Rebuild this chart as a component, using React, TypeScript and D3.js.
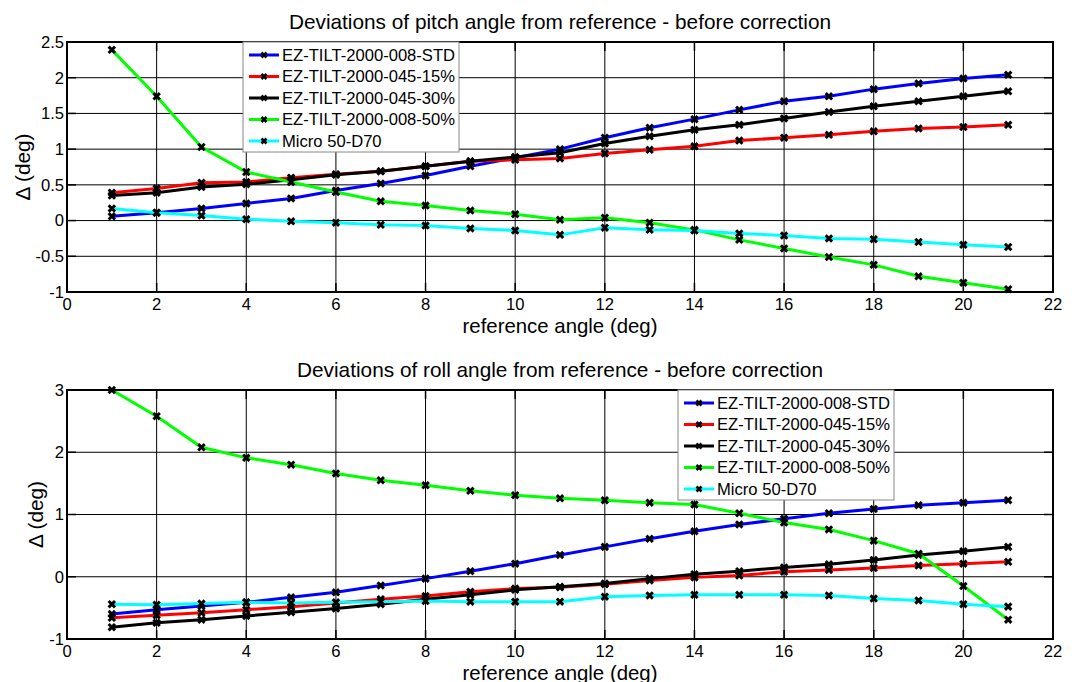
import React, { useEffect, useRef } from "react";
import * as d3 from "d3";

// reference angles (deg)
const angles = [1, 2, 3, 4, 5, 6, 7, 8, 9, 10, 11, 12, 13, 14, 15, 16, 17, 18, 19, 20, 21];

const seriesNames = [
  "EZ-TILT-2000-008-STD",
  "EZ-TILT-2000-045-15%",
  "EZ-TILT-2000-045-30%",
  "EZ-TILT-2000-008-50%",
  "Micro 50-D70",
];
const seriesColors = ["#0000ff", "#ff0000", "#000000", "#00ff00", "#00ffff"];

// pitch deviations
const pitchStd = [0.06, 0.11, 0.17, 0.24, 0.31, 0.42, 0.52, 0.63, 0.76, 0.88, 1.0, 1.16, 1.3, 1.42, 1.55, 1.67, 1.74, 1.84, 1.92, 1.99, 2.04];
const pitch15 = [0.39, 0.45, 0.53, 0.54, 0.6, 0.65, 0.69, 0.76, 0.83, 0.85, 0.87, 0.94, 0.99, 1.04, 1.12, 1.16, 1.2, 1.25, 1.29, 1.31, 1.34];
const pitch30 = [0.35, 0.39, 0.47, 0.51, 0.57, 0.64, 0.69, 0.76, 0.83, 0.89, 0.95, 1.08, 1.18, 1.27, 1.34, 1.43, 1.52, 1.6, 1.67, 1.74, 1.81];
const pitch50 = [2.39, 1.74, 1.03, 0.68, 0.54, 0.4, 0.27, 0.21, 0.14, 0.09, 0.01, 0.04, -0.03, -0.13, -0.27, -0.39, -0.51, -0.62, -0.78, -0.87, -0.96];
const pitchMicro = [0.17, 0.11, 0.07, 0.02, -0.01, -0.03, -0.06, -0.07, -0.11, -0.14, -0.2, -0.1, -0.13, -0.14, -0.18, -0.21, -0.25, -0.26, -0.3, -0.34, -0.37];

// roll deviations
const rollStd = [-0.6, -0.53, -0.47, -0.41, -0.33, -0.25, -0.14, -0.03, 0.09, 0.21, 0.35, 0.48, 0.61, 0.73, 0.84, 0.93, 1.02, 1.09, 1.15, 1.19, 1.23];
const roll15 = [-0.66, -0.62, -0.58, -0.53, -0.48, -0.42, -0.36, -0.31, -0.24, -0.19, -0.17, -0.12, -0.06, -0.01, 0.02, 0.08, 0.11, 0.14, 0.18, 0.21, 0.24];
const roll30 = [-0.81, -0.74, -0.69, -0.63, -0.57, -0.51, -0.44, -0.36, -0.29, -0.21, -0.16, -0.11, -0.03, 0.04, 0.09, 0.15, 0.2, 0.27, 0.35, 0.41, 0.48];
const roll50 = [3.0, 2.58, 2.08, 1.91, 1.8, 1.66, 1.55, 1.47, 1.38, 1.31, 1.26, 1.23, 1.19, 1.16, 1.02, 0.87, 0.76, 0.58, 0.37, -0.15, -0.69];
const rollMicro = [-0.44, -0.45, -0.43, -0.41, -0.42, -0.41, -0.4, -0.39, -0.4, -0.4, -0.4, -0.32, -0.3, -0.29, -0.29, -0.29, -0.3, -0.35, -0.38, -0.44, -0.48];

const xTicks = [0, 2, 4, 6, 8, 10, 12, 14, 16, 18, 20, 22];
const pitchTicks = [-1, -0.5, 0, 0.5, 1, 1.5, 2, 2.5];
const rollTicks = [-1, 0, 1, 2, 3];

const FONT = "'Liberation Sans', Arial, Helvetica, sans-serif";

const drawPanel = (svg, cfg) => {
  const left = 67,
    right = 1053;
  const x = d3.scaleLinear().domain([0, 22]).range([left, right]);
  const y = d3.scaleLinear().domain(cfg.yDomain).range([cfg.bottom, cfg.top]);
  const g = svg.append("g");

  // grid
  g.selectAll(".gx")
    .data(xTicks.slice(1, -1))
    .enter()
    .append("line")
    .attr("x1", (d) => x(d))
    .attr("x2", (d) => x(d))
    .attr("y1", cfg.top)
    .attr("y2", cfg.bottom)
    .attr("stroke", "#000")
    .attr("stroke-width", 1);
  g.selectAll(".gy")
    .data(cfg.yTicks.slice(1, -1))
    .enter()
    .append("line")
    .attr("x1", left)
    .attr("x2", right)
    .attr("y1", (d) => y(d))
    .attr("y2", (d) => y(d))
    .attr("stroke", "#000")
    .attr("stroke-width", 1);

  // inward ticks on all sides
  const tl = 9;
  xTicks.forEach((d) => {
    g.append("line").attr("x1", x(d)).attr("x2", x(d)).attr("y1", cfg.bottom).attr("y2", cfg.bottom - tl).attr("stroke", "#000").attr("stroke-width", 1.5);
    g.append("line").attr("x1", x(d)).attr("x2", x(d)).attr("y1", cfg.top).attr("y2", cfg.top + tl).attr("stroke", "#000").attr("stroke-width", 1.5);
  });
  cfg.yTicks.forEach((d) => {
    g.append("line").attr("x1", left).attr("x2", left + tl).attr("y1", y(d)).attr("y2", y(d)).attr("stroke", "#000").attr("stroke-width", 1.5);
    g.append("line").attr("x1", right).attr("x2", right - tl).attr("y1", y(d)).attr("y2", y(d)).attr("stroke", "#000").attr("stroke-width", 1.5);
  });

  // tick labels
  g.selectAll(".xl")
    .data(xTicks)
    .enter()
    .append("text")
    .attr("x", (d) => x(d))
    .attr("y", cfg.bottom + 18)
    .attr("text-anchor", "middle")
    .attr("font-family", FONT)
    .attr("font-size", 16.6)
    .text((d) => String(d));
  g.selectAll(".yl")
    .data(cfg.yTicks)
    .enter()
    .append("text")
    .attr("x", left - 3)
    .attr("y", (d) => y(d))
    .attr("dy", "0.35em")
    .attr("text-anchor", "end")
    .attr("font-family", FONT)
    .attr("font-size", 16.6)
    .text((d) => String(d));

  // series
  const line = d3
    .line()
    .x((d) => x(d[0]))
    .y((d) => y(d[1]));
  cfg.series.forEach((vals, i) => {
    const pts = angles.map((a, k) => [a, vals[k]]);
    g.append("path")
      .datum(pts)
      .attr("fill", "none")
      .attr("stroke", seriesColors[i])
      .attr("stroke-width", 3)
      .attr("d", line);
    g.selectAll(".m" + i)
      .data(pts)
      .enter()
      .append("path")
      .attr("transform", (d) => `translate(${x(d[0])},${y(d[1])})`)
      .attr("d", "M-3.2,-3.2L3.2,3.2M-3.2,3.2L3.2,-3.2")
      .attr("stroke", "#000")
      .attr("stroke-width", 3);
  });

  // box
  g.append("rect")
    .attr("x", left)
    .attr("y", cfg.top)
    .attr("width", right - left)
    .attr("height", cfg.bottom - cfg.top)
    .attr("fill", "none")
    .attr("stroke", "#000")
    .attr("stroke-width", 2);

  // legend
  const lg = g.append("g").attr("transform", `translate(${cfg.legend[0]},${cfg.legend[1]})`);
  lg.append("rect")
    .attr("width", 216)
    .attr("height", 110)
    .attr("fill", "#fff")
    .attr("stroke", "#888")
    .attr("stroke-width", 1);
  seriesNames.forEach((name, i) => {
    const yy = 13 + i * 21.5;
    lg.append("line").attr("x1", 6).attr("x2", 36).attr("y1", yy).attr("y2", yy).attr("stroke", seriesColors[i]).attr("stroke-width", 3);
    lg.append("path").attr("transform", `translate(21,${yy})`).attr("d", "M-2.5,-2.5L2.5,2.5M-2.5,2.5L2.5,-2.5").attr("stroke", "#000").attr("stroke-width", 2.6);
    lg.append("text")
      .attr("x", 39)
      .attr("y", yy)
      .attr("dy", "0.36em")
      .attr("font-family", FONT)
      .attr("font-size", 16.6)
      .text(name);
  });

  // titles
  g.append("text")
    .attr("x", (left + right) / 2)
    .attr("y", cfg.top - 13)
    .attr("text-anchor", "middle")
    .attr("font-family", FONT)
    .attr("font-size", 20.8)
    .text(cfg.title);
  g.append("text")
    .attr("x", (left + right) / 2)
    .attr("y", cfg.bottom + 40.5)
    .attr("text-anchor", "middle")
    .attr("font-family", FONT)
    .attr("font-size", 20.4)
    .text("reference angle (deg)");
  g.append("text")
    .attr("transform", `translate(${cfg.ylabelX},${(cfg.top + cfg.bottom) / 2}) rotate(-90)`)
    .attr("text-anchor", "middle")
    .attr("font-family", FONT)
    .attr("font-size", 20.8)
    .text("\u0394 (deg)");
};

export default function App() {
  const svgRef = useRef(null);

  useEffect(() => {
    document.body.style.margin = "0";
    const svg = d3.select(svgRef.current);
    svg.selectAll("*").remove();

    drawPanel(svg, {
      top: 42,
      bottom: 292,
      yDomain: [-1, 2.5],
      yTicks: pitchTicks,
      title: "Deviations of pitch angle from reference - before correction",
      series: [pitchStd, pitch15, pitch30, pitch50, pitchMicro],
      legend: [243, 42],
      ylabelX: 30,
    });
    drawPanel(svg, {
      top: 390,
      bottom: 639,
      yDomain: [-1, 3],
      yTicks: rollTicks,
      title: "Deviations of roll angle from reference - before correction",
      series: [rollStd, roll15, roll30, roll50, rollMicro],
      legend: [678, 390],
      ylabelX: 43,
    });
  }, []);

  return (
    <div style={{ position: "absolute", left: 0, top: 0 }}>
      <svg ref={svgRef} width={1084} height={682} style={{ display: "block", background: "#fff" }}></svg>
    </div>
  );
}
